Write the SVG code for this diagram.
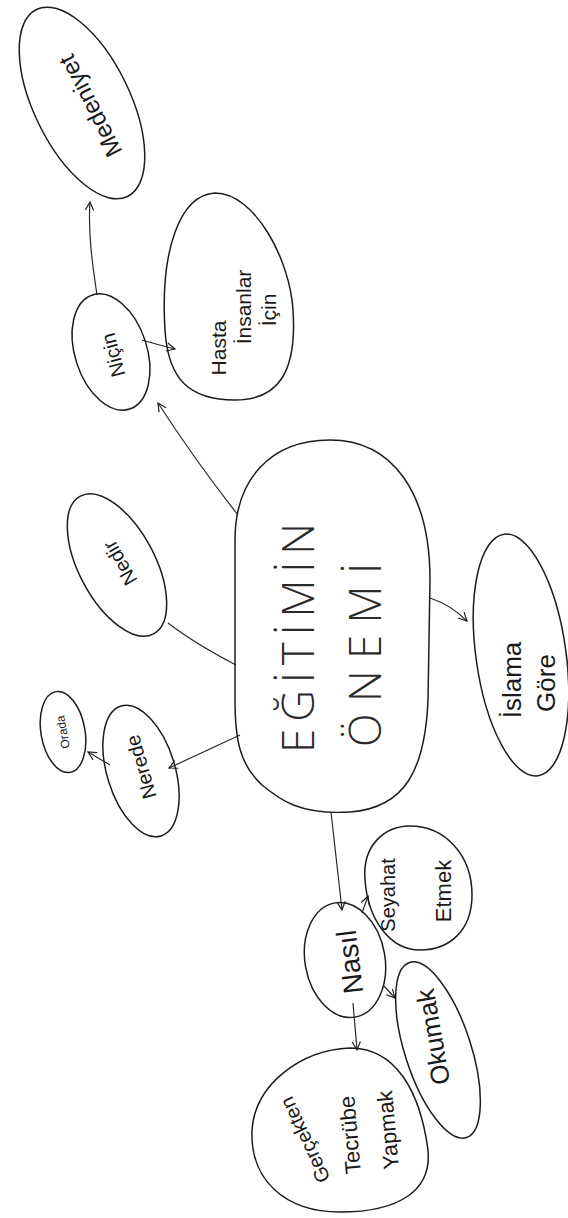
<svg xmlns="http://www.w3.org/2000/svg" width="568" height="1218" viewBox="0 0 568 1218">
  <style>
    .shape { fill: none; stroke: #1c1c1c; stroke-width: 1.5; }
    .link { fill: none; stroke: #2a2a2a; stroke-width: 1.2; }
    .lbl { font-family: "Liberation Sans", "DejaVu Sans", sans-serif; fill: #1a1a1a; text-anchor: middle; dominant-baseline: central; }
    .big { font-family: "Open Sans", "Liberation Sans", sans-serif; font-weight: 300; fill: #2a2a2a; text-anchor: middle; dominant-baseline: central; }
  </style>
  <defs>
    <marker id="arrow" viewBox="0 0 12 12" refX="11" refY="6" markerWidth="10" markerHeight="10" markerUnits="userSpaceOnUse" orient="auto">
      <path d="M1,1 L11,6 L1,11" fill="none" stroke="#1c1c1c" stroke-width="1.4"/>
    </marker>
  </defs>
  <rect width="568" height="1218" fill="#ffffff"/>

  <!-- connectors -->
  <g id="connectors">
    <path class="link" d="M238,515 C212,482 182,440 158,403" marker-end="url(#arrow)"/>
    <path class="link" d="M97,295 C92,262 88,232 90,202" marker-end="url(#arrow)"/>
    <path class="link" d="M142,340 C152,343 163,346 175,349" marker-end="url(#arrow)"/>
    <path class="link" d="M236,665 C215,654 190,640 168,623"/>
    <path class="link" d="M240,735 L169,768" marker-end="url(#arrow)"/>
    <path class="link" d="M110,765 L88,752" marker-end="url(#arrow)"/>
    <path class="link" d="M430,598 C445,603 456,610 467,621" marker-end="url(#arrow)"/>
    <path class="link" d="M331,812 L342,910" marker-end="url(#arrow)"/>
    <path class="link" d="M362,913 L368,896" marker-end="url(#arrow)"/>
    <path class="link" d="M384,986 L395,998" marker-end="url(#arrow)"/>
    <path class="link" d="M353,1003 L357,1050" marker-end="url(#arrow)"/>
  </g>

  <!-- central topic -->
  <g id="node-egitimin-onemi">
    <path class="shape" d="M330,440 C392,440 430,492 430,580 L428,700 C425,770 405,808 350,812 C300,815 280,800 262,785 C240,765 235,740 235,700 L235,540 C235,480 270,440 330,440 Z"/>
    <text class="big" font-size="44" textLength="230" lengthAdjust="spacing" transform="translate(297,638) rotate(-90)">EĞİTİMİN</text>
    <text class="big" font-size="44" textLength="184" lengthAdjust="spacing" transform="translate(364,655) rotate(-90)">ÖNEMİ</text>
  </g>

  <g id="node-medeniyet">
    <ellipse class="shape" cx="82" cy="103" rx="104" ry="48" transform="rotate(64 82 103)"/>
    <text class="lbl" font-size="24" transform="translate(90,106) rotate(-117)">Medeniyet</text>
  </g>

  <g id="node-nicin">
    <ellipse class="shape" cx="111" cy="352" rx="60" ry="36" transform="rotate(72 111 352)"/>
    <text class="lbl" font-size="20" transform="translate(113,355) rotate(-105)">Niçin</text>
  </g>

  <g id="node-hasta">
    <path class="shape" d="M165,330 C160,250 180,195 215,193 C255,193 290,260 293,310 C297,370 280,400 235,400 C190,400 168,380 165,330 Z"/>
    <g transform="translate(243,325) rotate(-90)">
      <text class="lbl" font-size="21" x="-23" y="-25">Hasta</text>
      <text class="lbl" font-size="21" x="18" y="0">İnsanlar</text>
      <text class="lbl" font-size="21" x="15" y="25">İçin</text>
    </g>
  </g>

  <g id="node-nedir">
    <ellipse class="shape" cx="117" cy="565" rx="78" ry="38" transform="rotate(62 117 565)"/>
    <text class="lbl" font-size="20" transform="translate(120,563) rotate(-120)">Nedir</text>
  </g>

  <g id="node-nerede">
    <ellipse class="shape" cx="141" cy="771" rx="68" ry="34" transform="rotate(73 141 771)"/>
    <text class="lbl" font-size="20" transform="translate(141,767) rotate(-106)">Nerede</text>
  </g>

  <g id="node-orada">
    <ellipse class="shape" cx="63" cy="732" rx="41" ry="22" transform="rotate(80 63 732)"/>
    <text class="lbl" font-size="12" transform="translate(63,732) rotate(-100)">Orada</text>
  </g>

  <g id="node-islama-gore">
    <ellipse class="shape" cx="521" cy="655" rx="122" ry="45" transform="rotate(82 521 655)"/>
    <text class="lbl" font-size="26" transform="translate(512,680) rotate(-90)">İslama</text>
    <text class="lbl" font-size="26" transform="translate(546,683) rotate(-90)">Göre</text>
  </g>

  <g id="node-nasil">
    <ellipse class="shape" cx="345" cy="960" rx="58" ry="40" transform="rotate(80 345 960)"/>
    <text class="lbl" font-size="28" transform="translate(350,962) rotate(-97)">Nasıl</text>
  </g>

  <g id="node-seyahat-etmek">
    <path class="shape" d="M365,880 C362,845 385,826 410,826 C445,826 472,855 472,895 C472,930 450,950 420,950 C390,950 368,920 365,880 Z"/>
    <text class="lbl" font-size="20" transform="translate(388,895) rotate(-90)">Seyahat</text>
    <text class="lbl" font-size="22" transform="translate(443,891) rotate(-90)">Etmek</text>
  </g>

  <g id="node-okumak">
    <ellipse class="shape" cx="438" cy="1050" rx="92" ry="33" transform="rotate(72 438 1050)"/>
    <text class="lbl" font-size="26" transform="translate(433,1037) rotate(-100)">Okumak</text>
  </g>

  <g id="node-gercekten">
    <path class="shape" d="M252,1130 C255,1085 300,1050 350,1048 C395,1048 420,1090 428,1150 C432,1190 400,1212 340,1212 C285,1212 250,1180 252,1130 Z"/>
    <text class="lbl" font-size="20" transform="translate(305,1140) rotate(-115)">Gerçekten</text>
    <text class="lbl" font-size="22" transform="translate(350,1135) rotate(-95)">Tecrübe</text>
    <text class="lbl" font-size="22" transform="translate(388,1130) rotate(-95)">Yapmak</text>
  </g>
</svg>
